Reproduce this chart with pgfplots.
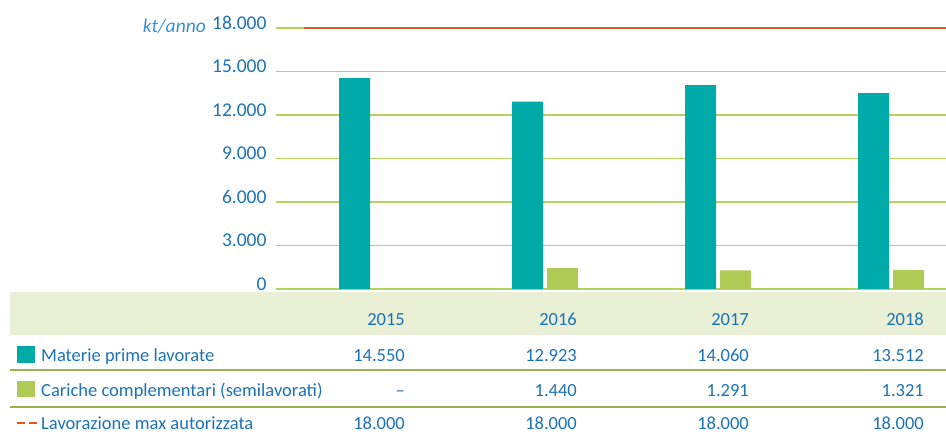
\documentclass[border=0pt]{standalone}
\usepackage{fontspec}
\setmainfont{Carlito}
\usepackage{pgfplots}
\pgfplotsset{compat=1.18}
\definecolor{barteal}{HTML}{00AAA9}
\definecolor{barlime}{HTML}{AFCB55}
\definecolor{bandgreen}{HTML}{EAF0D5}
\definecolor{gridgreen}{HTML}{B3D35E}
\definecolor{maxorange}{HTML}{E8531E}
\definecolor{txtblue}{HTML}{1B72B8}
\definecolor{unitblue}{HTML}{3D8FCF}
\newcommand{\tf}{\fontsize{18.5}{21}\selectfont}
\newcommand{\yf}{\fontsize{19.5}{22}\selectfont}
\begin{document}
\begin{tikzpicture}[x=1pt,y=1pt]
\useasboundingbox (0,0) rectangle (946,441);
% table band
\fill[bandgreen] (10,106) rectangle (946,149);
\begin{axis}[
  at={(276pt,152pt)}, anchor=south west,
  scale only axis, width=670pt, height=261pt,
  xmin=-0.5549, xmax=3.3179, ymin=0, ymax=18000,
  ytick={0,3000,6000,9000,12000,15000,18000},
  xtick=\empty, scaled y ticks=false,
  ymajorgrids,
  axis line style={draw=none},
  major tick length=0pt,
  major grid style={color=gridgreen, line width=1.3pt},
  yticklabel style={font=\yf, text=txtblue, xshift=-6pt, yshift=5pt},
  /pgf/number format/1000 sep={.},
  /pgf/number format/assume math mode=true,
  clip=false,
]
\addplot[ybar, bar width=31pt, bar shift=-17.5pt, fill=barteal, draw=none]
  coordinates {(0,14550) (1,12923) (2,14060) (3,13512)};
\addplot[ybar, bar width=31pt, bar shift=17.5pt, fill=barlime, draw=none]
  coordinates {(1,1440) (2,1291) (3,1321)};
\addplot[sharp plot, no marks, color=maxorange, line width=2.8pt]
  coordinates {(-0.393,18000) (3.3179,18000)};
\end{axis}
% unit label
\node[anchor=base east, inner sep=0pt, text=unitblue, font=\yf\itshape] at (206,408) {kt/anno};
% header years
\foreach \xx/\yy in {405/2015, 577/2016, 749/2017, 924/2018}
  \node[anchor=base east, inner sep=0pt, text=txtblue, font=\tf] at (\xx,115) {\yy};
% separator lines
\draw[gridgreen!85!black, line width=1.2pt] (10,71) -- (946,71);
\draw[gridgreen!85!black, line width=1.2pt] (10,34) -- (946,34);
% legend keys
\fill[barteal] (17,78) rectangle (35,95);
\fill[barlime] (17,44) rectangle (35,60);
\draw[maxorange, line width=1.6pt] (17,18) -- (25,18);
\draw[maxorange, line width=1.6pt] (29,18) -- (37,18);
% row labels
\node[anchor=base west, inner sep=0pt, text=txtblue, font=\tf] at (41,79) {Materie prime lavorate};
\node[anchor=base west, inner sep=0pt, text=txtblue, font=\tf] at (41,44) {Cariche complementari (semilavorati)};
\node[anchor=base west, inner sep=0pt, text=txtblue, font=\tf] at (41,11) {Lavorazione max autorizzata};
% row values
\foreach \xx/\va/\vb/\vc in {405/14.550/--/18.000, 577/12.923/1.440/18.000, 749/14.060/1.291/18.000, 924/13.512/1.321/18.000}{
  \node[anchor=base east, inner sep=0pt, text=txtblue, font=\tf] at (\xx,79) {\va};
  \node[anchor=base east, inner sep=0pt, text=txtblue, font=\tf] at (\xx,44) {\vb};
  \node[anchor=base east, inner sep=0pt, text=txtblue, font=\tf] at (\xx,11) {\vc};
}
\end{tikzpicture}
\end{document}
